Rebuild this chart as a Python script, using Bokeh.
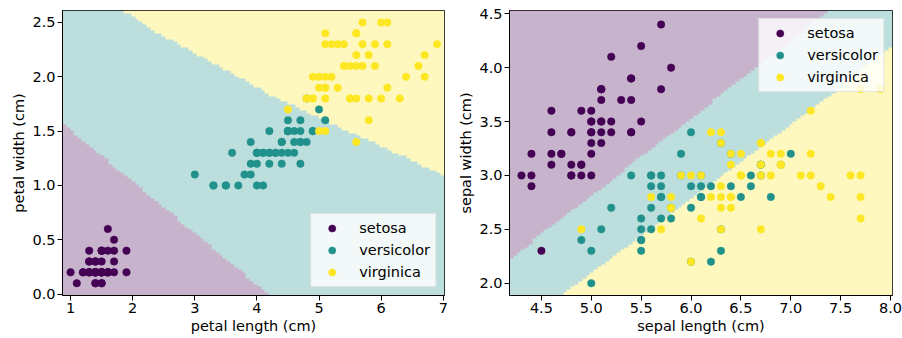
import numpy as np
from bokeh.plotting import figure
from bokeh.layouts import row
from bokeh.models import Range1d, FixedTicker, Legend, LegendItem
from bokeh.embed import file_html
from bokeh.resources import INLINE

# ---------------- data (Iris) ----------------
species = ["setosa", "versicolor", "virginica"]
species_colors = ["#440154", "#21918c", "#fde725"]

setosa_sepal_length = [5.1, 4.9, 4.7, 4.6, 5.0, 5.4, 4.6, 5.0, 4.4, 4.9, 5.4, 4.8, 4.8, 4.3, 5.8, 5.7, 5.4, 5.1, 5.7, 5.1,
                       5.4, 5.1, 4.6, 5.1, 4.8, 5.0, 5.0, 5.2, 5.2, 4.7, 4.8, 5.4, 5.2, 5.5, 4.9, 5.0, 5.5, 4.9, 4.4, 5.1,
                       5.0, 4.5, 4.4, 5.0, 5.1, 4.8, 5.1, 4.6, 5.3, 5.0]
setosa_sepal_width = [3.5, 3.0, 3.2, 3.1, 3.6, 3.9, 3.4, 3.4, 2.9, 3.1, 3.7, 3.4, 3.0, 3.0, 4.0, 4.4, 3.9, 3.5, 3.8, 3.8,
                      3.4, 3.7, 3.6, 3.3, 3.4, 3.0, 3.4, 3.5, 3.4, 3.2, 3.1, 3.4, 4.1, 4.2, 3.1, 3.2, 3.5, 3.6, 3.0, 3.4,
                      3.5, 2.3, 3.2, 3.5, 3.8, 3.0, 3.8, 3.2, 3.7, 3.3]
setosa_petal_length = [1.4, 1.4, 1.3, 1.5, 1.4, 1.7, 1.4, 1.5, 1.4, 1.5, 1.5, 1.6, 1.4, 1.1, 1.2, 1.5, 1.3, 1.4, 1.7, 1.5,
                       1.7, 1.5, 1.0, 1.7, 1.9, 1.6, 1.6, 1.5, 1.4, 1.6, 1.6, 1.5, 1.5, 1.4, 1.5, 1.2, 1.3, 1.4, 1.3, 1.5,
                       1.3, 1.3, 1.3, 1.6, 1.9, 1.4, 1.6, 1.4, 1.5, 1.4]
setosa_petal_width = [0.2, 0.2, 0.2, 0.2, 0.2, 0.4, 0.3, 0.2, 0.2, 0.1, 0.2, 0.2, 0.1, 0.1, 0.2, 0.4, 0.4, 0.3, 0.3, 0.3,
                      0.2, 0.4, 0.2, 0.5, 0.2, 0.2, 0.4, 0.2, 0.2, 0.2, 0.2, 0.4, 0.1, 0.2, 0.2, 0.2, 0.2, 0.1, 0.2, 0.2,
                      0.3, 0.3, 0.2, 0.6, 0.4, 0.3, 0.2, 0.2, 0.2, 0.2]

versicolor_sepal_length = [7.0, 6.4, 6.9, 5.5, 6.5, 5.7, 6.3, 4.9, 6.6, 5.2, 5.0, 5.9, 6.0, 6.1, 5.6, 6.7, 5.6, 5.8, 6.2, 5.6,
                           5.9, 6.1, 6.3, 6.1, 6.4, 6.6, 6.8, 6.7, 6.0, 5.7, 5.5, 5.5, 5.8, 6.0, 5.4, 6.0, 6.7, 6.3, 5.6, 5.5,
                           5.5, 6.1, 5.8, 5.0, 5.6, 5.7, 5.7, 6.2, 5.1, 5.7]
versicolor_sepal_width = [3.2, 3.2, 3.1, 2.3, 2.8, 2.8, 3.3, 2.4, 2.9, 2.7, 2.0, 3.0, 2.2, 2.9, 2.9, 3.1, 3.0, 2.7, 2.2, 2.5,
                          3.2, 2.8, 2.5, 2.8, 2.9, 3.0, 2.8, 3.0, 2.9, 2.6, 2.4, 2.4, 2.7, 2.7, 3.0, 3.4, 3.1, 2.3, 3.0, 2.5,
                          2.6, 3.0, 2.6, 2.3, 2.7, 3.0, 2.9, 2.9, 2.5, 2.8]
versicolor_petal_length = [4.7, 4.5, 4.9, 4.0, 4.6, 4.5, 4.7, 3.3, 4.6, 3.9, 3.5, 4.2, 4.0, 4.7, 3.6, 4.4, 4.5, 4.1, 4.5, 3.9,
                           4.8, 4.0, 4.9, 4.7, 4.3, 4.4, 4.8, 5.0, 4.5, 3.5, 3.8, 3.7, 3.9, 5.1, 4.5, 4.5, 4.7, 4.4, 4.1, 4.0,
                           4.4, 4.6, 4.0, 3.3, 4.2, 4.2, 4.2, 4.3, 3.0, 4.1]
versicolor_petal_width = [1.4, 1.5, 1.5, 1.3, 1.5, 1.3, 1.6, 1.0, 1.3, 1.4, 1.0, 1.5, 1.0, 1.4, 1.3, 1.4, 1.5, 1.0, 1.5, 1.1,
                          1.8, 1.3, 1.5, 1.2, 1.3, 1.4, 1.4, 1.7, 1.5, 1.0, 1.1, 1.0, 1.2, 1.6, 1.5, 1.6, 1.5, 1.3, 1.3, 1.3,
                          1.2, 1.4, 1.2, 1.0, 1.3, 1.2, 1.3, 1.3, 1.1, 1.3]

virginica_sepal_length = [6.3, 5.8, 7.1, 6.3, 6.5, 7.6, 4.9, 7.3, 6.7, 7.2, 6.5, 6.4, 6.8, 5.7, 5.8, 6.4, 6.5, 7.7, 7.7, 6.0,
                          6.9, 5.6, 7.7, 6.3, 6.7, 7.2, 6.2, 6.1, 6.4, 7.2, 7.4, 7.9, 6.4, 6.3, 6.1, 7.7, 6.3, 6.4, 6.0, 6.9,
                          6.7, 6.9, 5.8, 6.8, 6.7, 6.7, 6.3, 6.5, 6.2, 5.9]
virginica_sepal_width = [3.3, 2.7, 3.0, 2.9, 3.0, 3.0, 2.5, 2.9, 2.5, 3.6, 3.2, 2.7, 3.0, 2.5, 2.8, 3.2, 3.0, 3.8, 2.6, 2.2,
                         3.2, 2.8, 2.8, 2.7, 3.3, 3.2, 2.8, 3.0, 2.8, 3.0, 2.8, 3.8, 2.8, 2.8, 2.6, 3.0, 3.4, 3.1, 3.0, 3.1,
                         3.1, 3.1, 2.7, 3.2, 3.3, 3.0, 2.5, 3.0, 3.4, 3.0]
virginica_petal_length = [6.0, 5.1, 5.9, 5.6, 5.8, 6.6, 4.5, 6.3, 5.8, 6.1, 5.1, 5.3, 5.5, 5.0, 5.1, 5.3, 5.5, 6.7, 6.9, 5.0,
                          5.7, 4.9, 6.7, 4.9, 5.7, 6.0, 4.8, 4.9, 5.6, 5.8, 6.1, 6.4, 5.6, 5.1, 5.6, 6.1, 5.6, 5.5, 4.8, 5.4,
                          5.6, 5.1, 5.1, 5.9, 5.7, 5.2, 5.0, 5.2, 5.4, 5.1]
virginica_petal_width = [2.5, 1.9, 2.1, 1.8, 2.2, 2.1, 1.7, 1.8, 1.8, 2.5, 2.0, 1.9, 2.1, 2.0, 2.4, 2.3, 1.8, 2.2, 2.3, 1.5,
                         2.3, 2.0, 2.0, 1.8, 2.1, 1.8, 1.8, 1.8, 2.1, 1.6, 1.9, 2.0, 2.2, 1.5, 1.4, 2.3, 2.4, 1.8, 1.8, 2.1,
                         2.4, 2.3, 1.9, 2.3, 2.5, 2.3, 1.9, 2.0, 2.3, 1.8]

# decision boundaries (data coordinates)
petal_setosa_boundary_x = [0.87, 4.18]
petal_setosa_boundary_y = [1.57, 0.0]
petal_virginica_boundary_x = [1.82, 2.29, 4.30, 7.02]
petal_virginica_boundary_y = [2.62, 2.44, 1.81, 1.09]
sepal_setosa_boundary_x = [4.19, 6.60]
sepal_setosa_boundary_y = [2.23, 3.96]
sepal_virginica_boundary_x = [4.71, 8.02]
sepal_virginica_boundary_y = [1.886, 4.19]

# axis ranges and ticks
petal_x_range = (0.87, 7.02)
petal_y_range = (-0.013, 2.61)
sepal_x_range = (4.18, 8.02)
sepal_y_range = (1.886, 4.53)
petal_x_ticks = [1, 2, 3, 4, 5, 6, 7]
petal_x_labels = ["1", "2", "3", "4", "5", "6", "7"]
petal_y_ticks = [0.0, 0.5, 1.0, 1.5, 2.0, 2.5]
petal_y_labels = ["0.0", "0.5", "1.0", "1.5", "2.0", "2.5"]
sepal_x_ticks = [4.5, 5.0, 5.5, 6.0, 6.5, 7.0, 7.5, 8.0]
sepal_x_labels = ["4.5", "5.0", "5.5", "6.0", "6.5", "7.0", "7.5", "8.0"]
sepal_y_ticks = [2.0, 2.5, 3.0, 3.5, 4.0, 4.5]
sepal_y_labels = ["2.0", "2.5", "3.0", "3.5", "4.0", "4.5"]

GRID = 100
BG_ALPHA = 0.3
FONT = "DejaVu Sans"
FS = "14.5px"
FIG_H = 338
BORDER_TOP = 10
BORDER_BOTTOM = 43


def line_at(xs, ys, x):
    xs = np.asarray(xs, float); ys = np.asarray(ys, float)
    y = np.interp(x, xs, ys)
    s0 = (ys[1] - ys[0]) / (xs[1] - xs[0])
    s1 = (ys[-1] - ys[-2]) / (xs[-1] - xs[-2])
    y = np.where(x < xs[0], ys[0] + (x - xs[0]) * s0, y)
    y = np.where(x > xs[-1], ys[-1] + (x - xs[-1]) * s1, y)
    return y


def hex_rgb(h):
    h = h.lstrip("#")
    return [int(h[i:i + 2], 16) for i in (0, 2, 4)]


def region_image(xr, yr, nx, ny, classify):
    x0, x1 = xr; y0, y1 = yr
    cw = (x1 - x0) / GRID; ch = (y1 - y0) / GRID
    px = x0 + (np.arange(nx) + 0.5) * (x1 - x0) / nx
    py = y0 + (np.arange(ny) + 0.5) * (y1 - y0) / ny
    cx = x0 + (np.floor((px - x0) / cw) + 0.5) * cw
    cy = y0 + (np.floor((py - y0) / ch) + 0.5) * ch
    X, Y = np.meshgrid(cx, cy)
    cls = classify(X, Y)
    img = np.empty((ny, nx), dtype=np.uint32)
    view = img.view(dtype=np.uint8).reshape((ny, nx, 4))
    for k, c in enumerate(species_colors):
        rgb = [int(round(255 - BG_ALPHA * (255 - v))) for v in hex_rgb(c)]
        m = cls == k
        view[m, 0] = rgb[0]; view[m, 1] = rgb[1]; view[m, 2] = rgb[2]; view[m, 3] = 255
    return img


def petal_classify(X, Y):
    a = line_at(petal_setosa_boundary_x, petal_setosa_boundary_y, X)
    b = line_at(petal_virginica_boundary_x, petal_virginica_boundary_y, X)
    return np.where(Y < a, 0, np.where(Y > b, 2, 1))


def sepal_classify(X, Y):
    a = line_at(sepal_setosa_boundary_x, sepal_setosa_boundary_y, X)
    b = line_at(sepal_virginica_boundary_x, sepal_virginica_boundary_y, X)
    return np.where(Y > a, 0, np.where(Y < b, 2, 1))


def make_plot(width, left_border, right_border, xr, yr, xt, xl, yt, yl, xlabel, ylabel,
              classify, xs_list, ys_list, legend_loc):
    p = figure(width=width, height=FIG_H, x_range=Range1d(*xr), y_range=Range1d(*yr),
               output_backend="svg", toolbar_location=None, title=None,
               min_border_left=left_border, min_border_right=right_border,
               min_border_top=BORDER_TOP, min_border_bottom=BORDER_BOTTOM,
               x_axis_label=xlabel, y_axis_label=ylabel)
    frame_w = width - left_border - right_border
    frame_h = FIG_H - BORDER_TOP - BORDER_BOTTOM
    img = region_image(xr, yr, frame_w, frame_h, classify)
    p.image_rgba(image=[img], x=xr[0], y=yr[0], dw=xr[1] - xr[0], dh=yr[1] - yr[0])
    renderers = []
    for xs, ys, c in zip(xs_list, ys_list, species_colors):
        r = p.scatter(xs, ys, size=7.5, fill_color=c, line_color=c, line_width=0.5)
        renderers.append(r)
    p.grid.visible = False
    p.outline_line_color = "black"
    p.outline_line_width = 1
    p.xaxis.ticker = FixedTicker(ticks=xt)
    p.yaxis.ticker = FixedTicker(ticks=yt)
    p.xaxis.major_label_overrides = {float(t): s for t, s in zip(xt, xl)}
    p.yaxis.major_label_overrides = {float(t): s for t, s in zip(yt, yl)}
    for ax in (p.xaxis[0], p.yaxis[0]):
        ax.major_tick_out = 5
        ax.major_tick_in = 0
        ax.minor_tick_out = 0
        ax.minor_tick_in = 0
        ax.major_label_standoff = 2
        ax.axis_label_standoff = 2
        ax.major_label_text_font = FONT
        ax.major_label_text_font_size = FS
        ax.major_label_text_color = "black"
        ax.axis_label_text_font = FONT
        ax.axis_label_text_font_size = FS
        ax.axis_label_text_font_style = "normal"
        ax.axis_label_text_color = "black"
        ax.axis_line_color = "black"
        ax.major_tick_line_color = "black"
    items = [LegendItem(label=s, renderers=[r]) for s, r in zip(species, renderers)]
    leg = Legend(items=items, location=legend_loc, margin=8, padding=5, spacing=4,
                 glyph_width=31, glyph_height=18, label_height=18, label_standoff=12,
                 label_text_font=FONT, label_text_font_size=FS, label_text_color="black",
                 background_fill_color="white", background_fill_alpha=0.8,
                 border_line_color="#cccccc", border_line_width=1)
    p.add_layout(leg)
    return p


p1 = make_plot(454, 62, 10, petal_x_range, petal_y_range,
               petal_x_ticks, petal_x_labels, petal_y_ticks, petal_y_labels,
               "petal length (cm)", "petal width (cm)", petal_classify,
               [setosa_petal_length, versicolor_petal_length, virginica_petal_length],
               [setosa_petal_width, versicolor_petal_width, virginica_petal_width],
               "bottom_right")
p2 = make_plot(448, 55, 10, sepal_x_range, sepal_y_range,
               sepal_x_ticks, sepal_x_labels, sepal_y_ticks, sepal_y_labels,
               "sepal length (cm)", "sepal width (cm)", sepal_classify,
               [setosa_sepal_length, versicolor_sepal_length, virginica_sepal_length],
               [setosa_sepal_width, versicolor_sepal_width, virginica_sepal_width],
               "top_right")

layout = row(p1, p2)
open("out.html", "w").write(file_html(layout, INLINE))
